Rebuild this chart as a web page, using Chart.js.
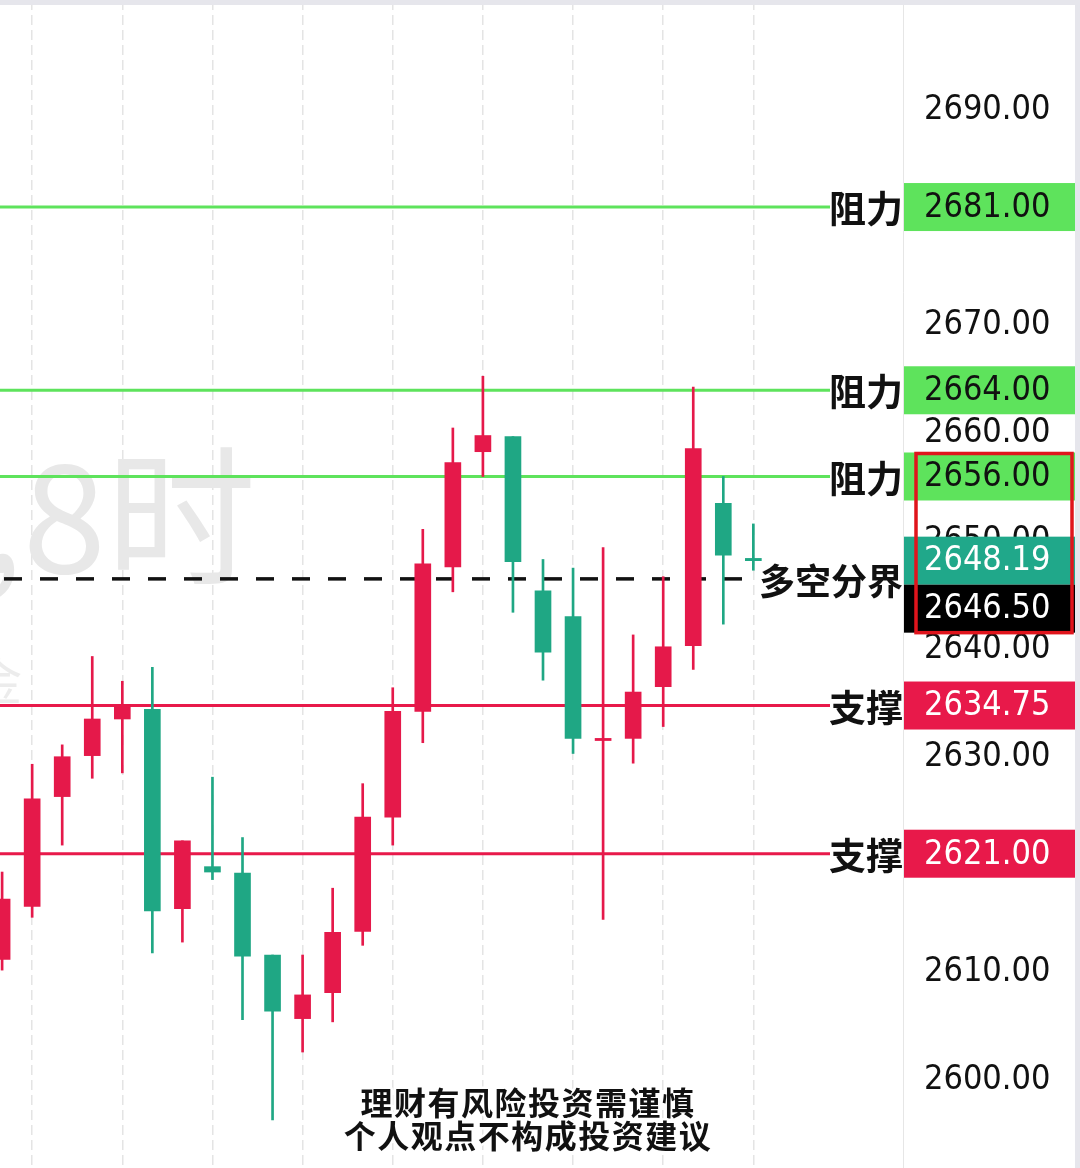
<!DOCTYPE html>
<html>
<head>
<meta charset="utf-8">
<script src="https://cdn.jsdelivr.net/npm/chart.js@4.4.1/dist/chart.umd.min.js"></script>
<style>
  html, body { margin: 0; padding: 0; background: #fff; }
  #wrap { width: 1080px; height: 1168px; }
</style>
</head>
<body>
<div id="wrap"><canvas id="kline" width="1080" height="1168"></canvas></div>
<script>
// 8h candles (red = up, green = down)
const opens  = [2611.2, 2616.1, 2626.3, 2630.1, 2633.5, 2634.4, 2615.9, 2619.8, 2619.2, 2611.6,
                2605.7, 2608.1, 2613.8, 2624.4, 2634.2, 2647.6, 2658.3, 2659.7, 2645.4, 2643.0,
                2631.5, 2631.7, 2636.5, 2640.3, 2653.5, 2648.4];
const highs  = [2619.3, 2629.3, 2631.1, 2639.3, 2637.0, 2638.3, 2622.2, 2628.1, 2622.5, 2611.6,
                2611.6, 2617.8, 2627.5, 2636.4, 2651.1, 2660.5, 2665.3, 2659.7, 2648.3, 2647.5,
                2649.4, 2641.3, 2646.7, 2664.3, 2656.0, 2651.6];
const lows   = [2610.2, 2615.1, 2621.8, 2628.0, 2628.5, 2611.8, 2612.8, 2618.6, 2605.6, 2596.3,
                2602.6, 2605.4, 2612.5, 2621.8, 2631.3, 2645.3, 2656.0, 2643.4, 2637.1, 2630.3,
                2614.9, 2629.4, 2632.8, 2638.1, 2642.3, 2647.3];
const closes = [2616.8, 2626.1, 2630.0, 2633.5, 2634.8, 2615.7, 2622.2, 2619.3, 2611.5, 2606.4,
                2607.9, 2613.7, 2624.4, 2634.2, 2647.9, 2657.3, 2659.8, 2648.1, 2639.7, 2631.7,
                2631.7, 2636.0, 2640.2, 2658.6, 2648.7, 2648.19];

const yTicks = [2600, 2610, 2620, 2630, 2640, 2650, 2660, 2670, 2680, 2690];
const timeTicks = [1, 4, 7, 10, 13, 16, 19, 22, 25];

const resistLevels = [2681.00, 2664.00, 2656.00];
const supportLevels = [2634.75, 2621.00];
const pivotLevel = 2646.50;
const lastPrice = 2648.19;

const UP = '#e5194a';
const DOWN = '#1fa784';
const LINE_GREEN = '#5ee35c';
const LINE_RED = '#e8194a';

const candleColors = opens.map((o, i) => closes[i] >= o ? UP : DOWN);
const bodies = opens.map((o, i) => ({ x: i, y: [o, closes[i]] }));
const wicks = lows.map((l, i) => ({ x: i, y: [l, highs[i]] }));

const PRICE_FONT = '34px "DejaVu Sans Condensed", "DejaVu Sans", sans-serif';
const CJK_BOLD = 'bold 37px "Noto Sans CJK SC", sans-serif';

function priceBox(ctx, left, right, top, h, fill, text, textColor) {
  ctx.fillStyle = fill;
  ctx.fillRect(left, top, right - left, h);
  ctx.fillStyle = textColor;
  ctx.font = PRICE_FONT;
  ctx.textAlign = 'left';
  ctx.textBaseline = 'middle';
  ctx.fillText(text, left + 20, top + h / 2 + 1);
}

const levelPlugin = {
  id: 'levels',
  beforeDatasetsDraw(chart) {
    const { ctx, scales: { y } } = chart;
    ctx.save();
    // watermark
    ctx.fillStyle = '#e8e8e8';
    ctx.font = '150px "Noto Sans CJK SC", sans-serif';
    ctx.textAlign = 'right';
    ctx.textBaseline = 'alphabetic';
    ctx.fillText('XAUUSD,8时', 256, 573);
    ctx.font = '50px "Noto Sans CJK SC", sans-serif';
    ctx.fillStyle = '#ececec';
    ctx.fillText('黄金', 22, 700);

    ctx.lineWidth = 3;
    resistLevels.forEach(v => {
      const py = y.getPixelForValue(v);
      ctx.strokeStyle = LINE_GREEN;
      ctx.beginPath(); ctx.moveTo(0, py); ctx.lineTo(830, py); ctx.stroke();
    });
    supportLevels.forEach(v => {
      const py = y.getPixelForValue(v);
      ctx.strokeStyle = LINE_RED;
      ctx.beginPath(); ctx.moveTo(0, py); ctx.lineTo(830, py); ctx.stroke();
    });
    const pp = y.getPixelForValue(pivotLevel);
    ctx.strokeStyle = '#111';
    ctx.lineWidth = 3.5;
    ctx.setLineDash([18, 18]);
    ctx.lineDashOffset = -4;
    ctx.beginPath(); ctx.moveTo(0, pp); ctx.lineTo(752, pp); ctx.stroke();
    ctx.restore();
  },
  afterDraw(chart) {
    const { ctx, scales: { y } } = chart;
    const boxL = 904, boxR = 1075, boxH = 48;
    ctx.save();
    // frame strips
    ctx.fillStyle = '#e6e6ec';
    ctx.fillRect(0, 0, 1080, 5);
    ctx.fillRect(1075, 0, 5, 1168);

    resistLevels.forEach(v => {
      const py = y.getPixelForValue(v);
      priceBox(ctx, boxL, boxR, py - boxH / 2, boxH, LINE_GREEN, v.toFixed(2), '#111');
      ctx.font = CJK_BOLD; ctx.fillStyle = '#111'; ctx.textAlign = 'right'; ctx.textBaseline = 'middle';
      ctx.fillText('阻力', 903, py + 2);
    });
    supportLevels.forEach(v => {
      const py = y.getPixelForValue(v);
      priceBox(ctx, boxL, boxR, py - boxH / 2, boxH, LINE_RED, v.toFixed(2), '#fff');
      ctx.font = CJK_BOLD; ctx.fillStyle = '#111'; ctx.textAlign = 'right'; ctx.textBaseline = 'middle';
      ctx.fillText('支撑', 903, py + 2);
    });

    // pivot label
    const pp = y.getPixelForValue(pivotLevel);
    ctx.font = '600 36px "Noto Sans CJK SC", sans-serif';
    ctx.fillStyle = '#111'; ctx.textAlign = 'right'; ctx.textBaseline = 'middle';
    ctx.fillText('多空分界', 903, pp + 2);

    // last price + pivot price boxes
    const lp = y.getPixelForValue(lastPrice);
    const gTop = lp - boxH / 2;
    priceBox(ctx, boxL, boxR, gTop, boxH, '#20a88a', lastPrice.toFixed(2), '#fff');
    priceBox(ctx, boxL, boxR, gTop + boxH, boxH, '#000', pivotLevel.toFixed(2), '#fff');

    // red highlight frame
    const rTop = y.getPixelForValue(resistLevels[2]) - 23;
    ctx.strokeStyle = '#e0141c';
    ctx.lineWidth = 3.5;
    ctx.strokeRect(916, rTop, 156, gTop + 2 * boxH - rTop);

    // disclaimer
    ctx.font = 'bold 32px "Noto Sans CJK SC", sans-serif';
    ctx.textAlign = 'center';
    ctx.textBaseline = 'middle';
    ctx.letterSpacing = '1.5px';
    ctx.lineJoin = 'round';
    ctx.lineWidth = 5;
    ctx.strokeStyle = '#fff';
    ctx.fillStyle = '#111';
    [['理财有风险投资需谨慎', 1103], ['个人观点不构成投资建议', 1136]].forEach(([t, ty]) => {
      ctx.strokeText(t, 528, ty);
      ctx.fillText(t, 528, ty);
    });
    ctx.restore();
  }
};

new Chart(document.getElementById('kline'), {
  type: 'bar',
  data: {
    datasets: [
      {
        label: 'wick',
        data: wicks,
        backgroundColor: candleColors,
        barThickness: 2,
        grouped: false,
        order: 2
      },
      {
        label: 'body',
        data: bodies,
        backgroundColor: candleColors,
        barThickness: 16,
        minBarLength: 2,
        grouped: false,
        order: 1
      }
    ]
  },
  options: {
    responsive: false,
    animation: false,
    events: [],
    layout: { padding: 0 },
    plugins: { legend: { display: false }, tooltip: { enabled: false } },
    scales: {
      x: {
        type: 'linear',
        min: -0.07,
        max: 29.98,
        offset: false,
        afterBuildTicks: s => { s.ticks = timeTicks.map(v => ({ value: v })); },
        afterFit: s => { s.height = 0; s.paddingLeft = 0; s.paddingRight = 0; },
        ticks: { display: false },
        grid: { color: '#e4e4e4', lineWidth: 1.5, drawTicks: false, offset: false },
        border: { display: false, dash: [10, 5] }
      },
      y: {
        position: 'right',
        min: 2591.84,
        max: 2700.21,
        afterBuildTicks: s => { s.ticks = yTicks.map(v => ({ value: v })); },
        afterFit: s => { s.width = 177; s.paddingTop = 0; s.paddingBottom = 0; },
        ticks: {
          padding: 21,
          color: '#111',
          font: { family: '"DejaVu Sans Condensed", "DejaVu Sans", sans-serif', size: 34 },
          callback: v => Number(v).toFixed(2)
        },
        grid: { display: false, drawTicks: false },
        border: { display: true, color: '#e6e6e6', width: 1 }
      }
    }
  },
  plugins: [levelPlugin]
});
</script>
</body>
</html>
